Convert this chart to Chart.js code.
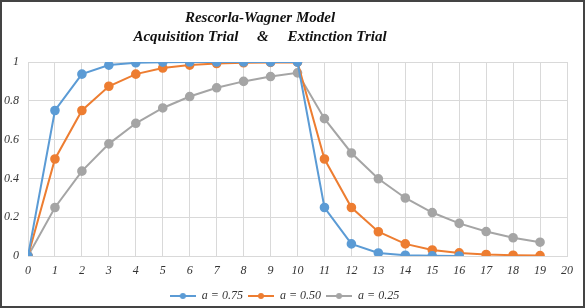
<!DOCTYPE html>
<html>
<head>
<meta charset="utf-8">
<script src="https://cdn.jsdelivr.net/npm/chart.js@4/dist/chart.umd.min.js"></script>
<style>
html,body{margin:0;padding:0;background:#fff;}
#wrap{width:585px;height:308px;position:relative;}
</style>
</head>
<body>
<div id="wrap"><canvas id="c" width="585" height="308"></canvas></div>
<script>
const titleLines = ["Rescorla-Wagner Model", "Acquisition Trial     &     Extinction Trial"];
const seriesNames = ["a = 0.75", "a = 0.50", "a = 0.25"];
const trials = [0,1,2,3,4,5,6,7,8,9,10,11,12,13,14,15,16,17,18,19];
const valuesA075 = [0,0.75,0.9375,0.984,0.996,0.999,1,1,1,1,1,0.25,0.0625,0.0156,0.0039,0.001,0.0002];
const valuesA050 = [0,0.5,0.75,0.875,0.9375,0.969,0.984,0.992,0.996,0.998,0.999,0.5,0.25,0.125,0.0625,0.031,0.016,0.008,0.004,0.002];
const valuesA025 = [0,0.25,0.4375,0.578,0.684,0.763,0.822,0.867,0.9,0.925,0.944,0.708,0.531,0.398,0.299,0.224,0.168,0.126,0.094,0.071];
const colors = ["#5B9BD5", "#ED7D31", "#A5A5A5"];

function pts(vals){ return vals.map((v,i)=>({x:trials[i], y:v})); }

function legendIcon(color){
  const cv = document.createElement('canvas');
  cv.width = 26; cv.height = 8;
  const c = cv.getContext('2d');
  c.strokeStyle = color; c.lineWidth = 2;
  c.beginPath(); c.moveTo(0,4); c.lineTo(26,4); c.stroke();
  c.fillStyle = color;
  c.beginPath(); c.arc(13,4,3,0,Math.PI*2); c.fill();
  return cv;
}

const frame = {
  id:'frame',
  afterDraw(chart){
    const c = chart.ctx;
    c.save();
    c.strokeStyle = '#444';
    c.lineWidth = 2;
    c.strokeRect(1,1,chart.width-2,chart.height-2);
    c.fillStyle = '#111';
    c.font = "italic bold 15px 'Liberation Serif', serif";
    c.textAlign = 'center';
    c.textBaseline = 'middle';
    c.fillText(titleLines[0], 260, 18);
    c.fillText(titleLines[1], 260, 37);
    c.restore();
  }
};

const tickFont = {family:"'Liberation Serif', serif", style:'italic', size:12};

new Chart(document.getElementById('c'), {
  type:'line',
  data:{
    datasets:[valuesA075, valuesA050, valuesA025].map((v,i)=>({
      label: seriesNames[i],
      data: pts(v),
      borderColor: colors[i],
      backgroundColor: colors[i],
      borderWidth: 2,
      pointRadius: 3.8,
      pointHoverRadius: 3.8,
      pointStyle: 'circle',
      tension: 0
    }))
  },
  options:{
    responsive:false,
    animation:false,
    devicePixelRatio:1,
    layout:{padding:{left:2,right:18,top:62,bottom:-4}},
    plugins:{
      title:{display:false},
      legend:{
        position:'bottom',
        labels:{
          usePointStyle:true,
          pointStyleWidth:26,
          boxHeight:8,
          generateLabels(chart){
            return chart.data.datasets.map((d,i)=>({
              text:d.label,
              pointStyle:legendIcon(colors[i]),
              fillStyle:colors[i],
              strokeStyle:colors[i],
              lineWidth:0,
              fontColor:'#333',
              hidden:false,
              datasetIndex:i
            }));
          },
          color:'#333',
          font:tickFont,
          padding:5
        }
      },
      tooltip:{enabled:false}
    },
    scales:{
      x:{
        type:'linear',
        min:0,max:20,
        afterFit(scale){ scale.height = 29; },
        ticks:{stepSize:1,color:'#333',font:tickFont,padding:8},
        grid:{color:'#d9d9d9',drawTicks:false},
        border:{color:'#d9d9d9'}
      },
      y:{
        min:0,max:1,
        afterFit(scale){ scale.width = 26; },
        ticks:{stepSize:0.2,color:'#333',font:tickFont,padding:9,
          callback:(v)=>String(Math.round(v*10)/10)},
        grid:{color:'#d9d9d9',drawTicks:false},
        border:{color:'#d9d9d9'}
      }
    }
  },
  plugins:[frame]
});
</script>
</body>
</html>
